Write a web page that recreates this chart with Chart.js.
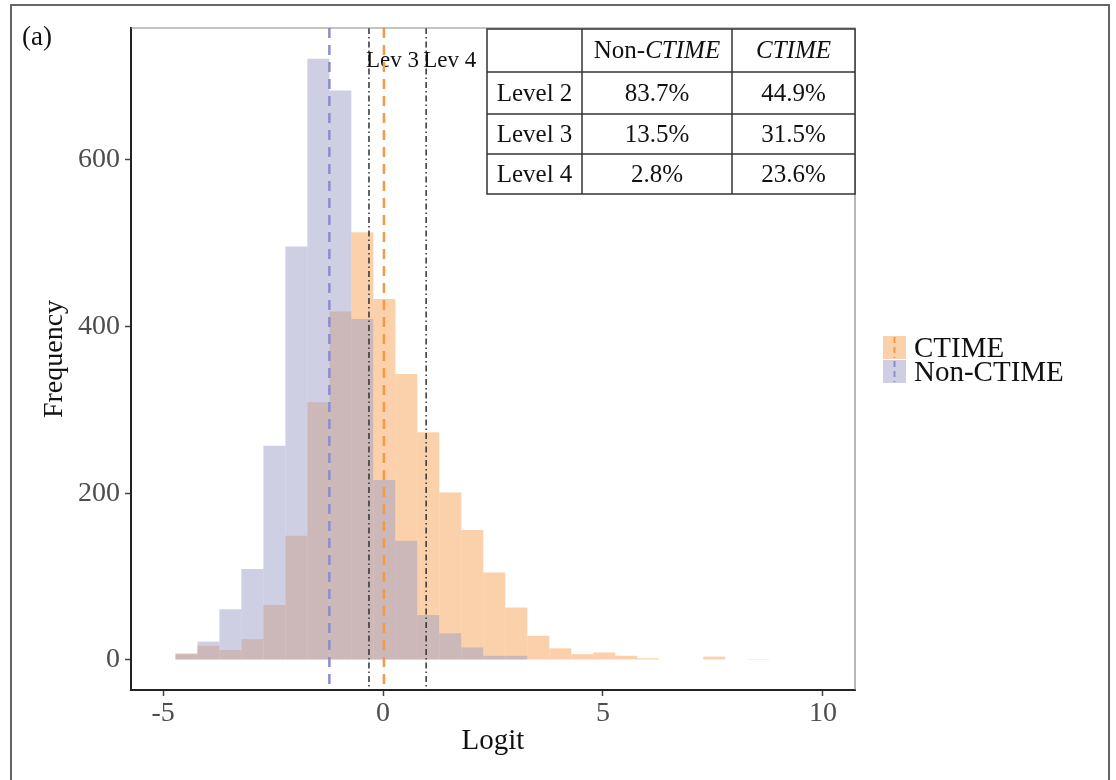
<!DOCTYPE html>
<html>
<head>
<meta charset="utf-8">
<script src="https://cdn.jsdelivr.net/npm/chart.js@4.4.1/dist/chart.umd.min.js"></script>
<style>
  html, body { margin: 0; padding: 0; background: #fff; }
  #wrap { position: relative; width: 1116px; height: 780px; }
</style>
</head>
<body>
<div id="wrap"><canvas id="histChart"></canvas></div>
<script>
// Histogram bins (centres on the logit scale, bin width 0.5)
const binCenters = [-4.47, -3.97, -3.47, -2.97, -2.47, -1.97, -1.47, -0.97, -0.47, 0.03,
  0.53, 1.03, 1.53, 2.03, 2.53, 3.03, 3.53, 4.03, 4.53, 5.03,
  5.53, 6.03, 6.53, 7.03, 7.53, 8.03, 8.53];
const ctimeCounts = [8, 17, 12, 25, 66, 149, 309, 418, 513, 433,
  343, 273, 201, 156, 105, 63, 29, 14, 7, 9,
  5, 2, 0, 0, 4, 0, 1];
const nonCtimeCounts = [7, 22, 61, 109, 257, 496, 721, 683, 409, 216,
  143, 54, 32, 15, 5, 5, 0, 0, 0, 0,
  0, 0, 0, 0, 0, 0, 0];

// Group means and level cut points
const groupMeans = [-1.22, 0.02]; // Non-CTIME, CTIME
const cutPoints = [-0.32, 0.98];
const cutLabels = ['Lev 3', 'Lev 4'];

// Axis ticks
const xTicks = [-5, 0, 5, 10];
const yTicks = [0, 200, 400, 600];

// Inset table
const tableHeader = ['', 'Non-', 'CTIME'];
const tableRows = ['Level 2', 'Level 3', 'Level 4'];
const nonCtimePct = ['83.7%', '13.5%', '2.8%'];
const ctimePct = ['44.9%', '31.5%', '23.6%'];

const legendLabels = ['CTIME', 'Non-CTIME'];

const SERIF = '"Liberation Serif", "Times New Roman", serif';
const orangeFill = 'rgba(248,163,90,0.5)';
const purpleFill = 'rgba(160,160,200,0.5)';
const orangeLine = '#f29a46';
const purpleLine = '#8c8dcc';

function vline(ctx, x, top, bottom, color, width, dash) {
  ctx.beginPath();
  ctx.setLineDash(dash);
  ctx.strokeStyle = color;
  ctx.lineWidth = width;
  ctx.moveTo(x, top);
  ctx.lineTo(x, bottom);
  ctx.stroke();
}

const overlayPlugin = {
  id: 'overlay',
  afterDatasetsDraw(chart) {
    const { ctx, chartArea: a, scales: { x } } = chart;
    ctx.save();
    // cut points (dash-dot)
    cutPoints.forEach((v, i) => {
      const px = x.getPixelForValue(v);
      vline(ctx, px, a.top, a.bottom, '#333', 1.5, [6, 3, 1.5, 3]);
      ctx.setLineDash([]);
      ctx.fillStyle = '#111';
      ctx.font = '23px ' + SERIF;
      ctx.textAlign = 'left';
      ctx.textBaseline = 'alphabetic';
      ctx.fillText(cutLabels[i], px - 3, a.top + 39);
    });
    // group means (dashed)
    vline(ctx, x.getPixelForValue(groupMeans[0]), a.top, a.bottom, purpleLine, 2.5, [10, 7]);
    vline(ctx, x.getPixelForValue(groupMeans[1]), a.top, a.bottom, orangeLine, 2.5, [10, 7]);
    ctx.restore();
  },
  afterDraw(chart) {
    const { ctx, chartArea: a } = chart;
    ctx.save();
    ctx.setLineDash([]);

    // panel top / right border
    ctx.strokeStyle = '#888';
    ctx.lineWidth = 1.2;
    ctx.beginPath();
    ctx.moveTo(a.left, a.top);
    ctx.lineTo(a.right, a.top);
    ctx.lineTo(a.right, a.bottom);
    ctx.stroke();

    // inset table
    const colW = [95, 150, 123];
    const rowH = [43, 42, 40, 40];
    const tw = colW.reduce((s, w) => s + w, 0);
    const th = rowH.reduce((s, h) => s + h, 0);
    const tl = a.right - tw, tt = a.top + 1;
    ctx.fillStyle = '#fff';
    ctx.fillRect(tl, tt, tw, th);
    ctx.strokeStyle = '#333';
    ctx.lineWidth = 1.5;
    ctx.strokeRect(tl, tt, tw, th);
    let cx = tl;
    colW.slice(0, -1).forEach(w => {
      cx += w;
      ctx.beginPath(); ctx.moveTo(cx, tt); ctx.lineTo(cx, tt + th); ctx.stroke();
    });
    let cy = tt;
    rowH.slice(0, -1).forEach(h => {
      cy += h;
      ctx.beginPath(); ctx.moveTo(tl, cy); ctx.lineTo(tl + tw, cy); ctx.stroke();
    });
    const colMid = i => tl + colW.slice(0, i).reduce((s, w) => s + w, 0) + colW[i] / 2;
    const rowMid = i => tt + rowH.slice(0, i).reduce((s, h) => s + h, 0) + rowH[i] / 2 + 1;
    ctx.fillStyle = '#111';
    ctx.textBaseline = 'middle';
    // header: "Non-" + italic "CTIME"
    const normal = '25px ' + SERIF, italic = 'italic 25px ' + SERIF;
    ctx.font = normal;
    const w1 = ctx.measureText(tableHeader[1]).width;
    ctx.font = italic;
    const w2 = ctx.measureText(tableHeader[2]).width;
    let hx = colMid(1) - (w1 + w2) / 2;
    ctx.textAlign = 'left';
    ctx.font = normal;
    ctx.fillText(tableHeader[1], hx, rowMid(0));
    ctx.font = italic;
    ctx.fillText(tableHeader[2], hx + w1, rowMid(0));
    ctx.textAlign = 'center';
    ctx.fillText(tableHeader[2], colMid(2), rowMid(0));
    ctx.font = normal;
    tableRows.forEach((r, i) => {
      ctx.fillText(r, colMid(0), rowMid(i + 1));
      ctx.fillText(nonCtimePct[i], colMid(1), rowMid(i + 1));
      ctx.fillText(ctimePct[i], colMid(2), rowMid(i + 1));
    });

    // legend
    const lx = a.right + 28;
    const midY = (a.top + a.bottom) / 2;
    const keys = [[orangeFill, orangeLine], [purpleFill, purpleLine]];
    keys.forEach((k, i) => {
      const ky = midY - 23 + i * 24;
      ctx.fillStyle = k[0];
      ctx.fillRect(lx, ky, 23, 23);
      vline(ctx, lx + 11.5, ky + 1, ky + 22, k[1], 2, [6, 4]);
      ctx.setLineDash([]);
      ctx.fillStyle = '#111';
      ctx.font = '29px ' + SERIF;
      ctx.textAlign = 'left';
      ctx.textBaseline = 'middle';
      ctx.fillText(legendLabels[i], lx + 31, ky + 13);
    });

    // panel tag and outer frame
    ctx.font = '27px ' + SERIF;
    ctx.textAlign = 'left';
    ctx.textBaseline = 'alphabetic';
    ctx.fillText('(a)', 22, 45);
    ctx.strokeStyle = '#666';
    ctx.lineWidth = 2;
    ctx.strokeRect(11, 5, 1098, 800);
    ctx.restore();
  }
};

new Chart(document.getElementById('histChart'), {
  type: 'bar',
  data: {
    datasets: [
      {
        label: 'Non-CTIME',
        data: binCenters.map((c, i) => ({ x: c, y: nonCtimeCounts[i] })),
        backgroundColor: purpleFill,
        borderWidth: 0,
        inflateAmount: 0,
        grouped: false,
        barPercentage: 1,
        categoryPercentage: 1
      },
      {
        label: 'CTIME',
        data: binCenters.map((c, i) => ({ x: c, y: ctimeCounts[i] })),
        backgroundColor: orangeFill,
        borderWidth: 0,
        inflateAmount: 0,
        grouped: false,
        barPercentage: 1,
        categoryPercentage: 1
      }
    ]
  },
  options: {
    responsive: true,
    maintainAspectRatio: false,
    animation: false,
    layout: { padding: { left: 0, right: 261, top: 28, bottom: 0 } },
    plugins: { legend: { display: false }, tooltip: { enabled: false } },
    scales: {
      x: {
        type: 'linear',
        min: -5.73,
        max: 10.73,
        offset: false,
        afterBuildTicks: s => { s.ticks = xTicks.map(v => ({ value: v })); },
        afterFit: s => { s.height = 90; },
        ticks: { font: { family: SERIF, size: 28 }, color: '#4d4d4d', padding: 1, maxRotation: 0, autoSkip: false },
        grid: { offset: false, drawOnChartArea: false, drawTicks: true, tickLength: 6, tickColor: '#444', tickWidth: 1.5 },
        border: { display: true, color: '#222', width: 2 },
        title: { display: true, text: 'Logit', font: { family: SERIF, size: 29 }, color: '#111', padding: { top: 0, bottom: 21 } }
      },
      y: {
        min: -36,
        max: 758,
        afterBuildTicks: s => { s.ticks = yTicks.map(v => ({ value: v })); },
        afterFit: s => { s.width = 131; },
        ticks: { font: { family: SERIF, size: 28 }, color: '#4d4d4d', padding: 5 },
        grid: { drawOnChartArea: false, drawTicks: true, tickLength: 6, tickColor: '#444', tickWidth: 1.5 },
        border: { display: true, color: '#222', width: 2 },
        title: { display: true, text: 'Frequency', font: { family: SERIF, size: 28 }, color: '#111', padding: { top: 38, bottom: 0 } }
      }
    }
  },
  plugins: [overlayPlugin]
});
</script>
</body>
</html>
